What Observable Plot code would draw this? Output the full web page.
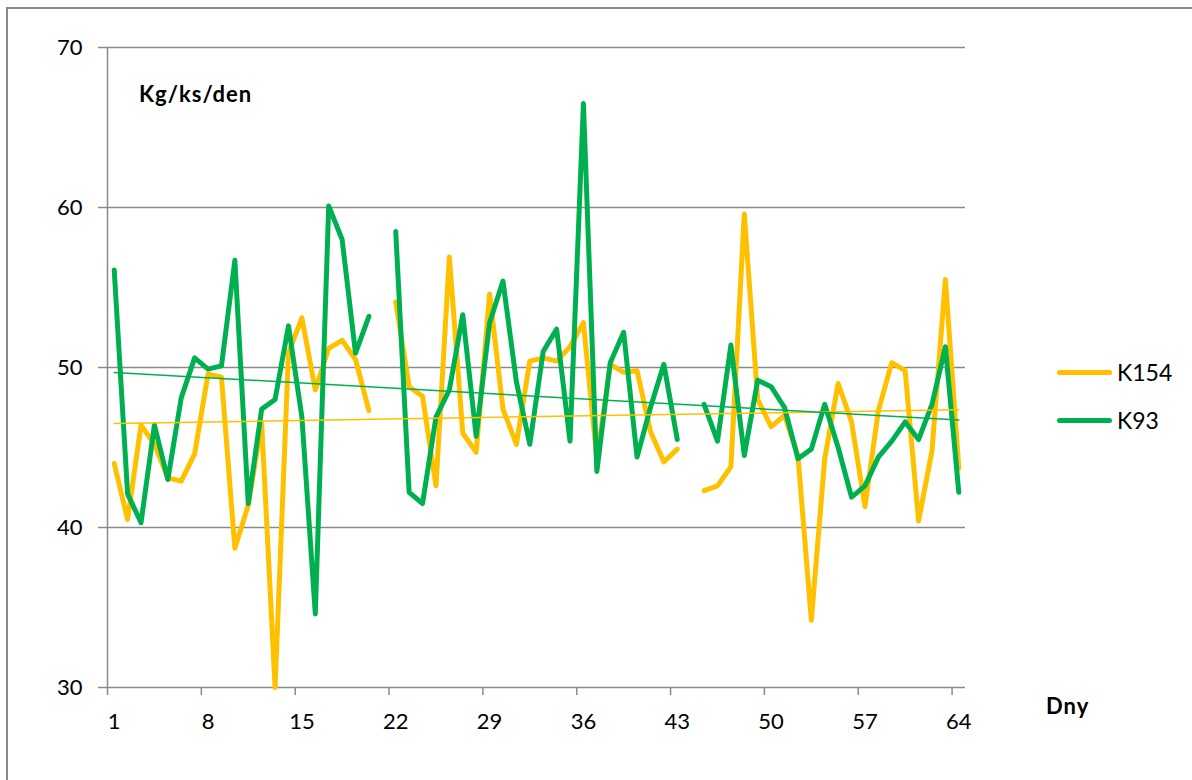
<!DOCTYPE html>
<html>
<head>
<meta charset="utf-8">
<script src="https://cdn.jsdelivr.net/npm/d3@7"></script>
<script src="https://cdn.jsdelivr.net/npm/@observablehq/plot@0.6"></script>
<style>
  html, body { margin: 0; padding: 0; background: #fff; }
  body { width: 1192px; height: 780px; position: relative; overflow: hidden; font-family: Lato, "Open Sans", sans-serif; }
  #frame { position: absolute; left: 6px; top: 7px; right: -10px; bottom: -10px; border-left: 2px solid #8a8a8a; border-top: 2px solid #8a8a8a; }
  #chart { position: absolute; left: 0; top: 0; }
  .lab { position: absolute; font-weight: bold; font-size: 22px; letter-spacing: 1px; color: #000; line-height: 1; white-space: nowrap; }
  .leg { position: absolute; left: 1057px; height: 30px; display: flex; align-items: center; font-size: 23px; color: #000; }
  .leg span.sw { display: inline-block; width: 55px; height: 5px; border-radius: 3px; margin-right: 5px; }
</style>
</head>
<body>
<div id="frame"></div>
<div id="chart"></div>
<div class="lab" style="left:139px; top:83px;">Kg/ks/den</div>
<div class="lab" style="left:1046px; top:695px;">Dny</div>
<div id="legend"></div>
<script>
// --- data ---
const seriesNames = ["K154", "K93"];
const seriesColors = ["#FFC000", "#00B050"];
const xTickLabels = [1, 8, 15, 22, 29, 36, 43, 50, 57, 64];
const yTicks = [30, 40, 50, 60, 70];

const k154 = [44.0, 40.5, 46.4, 45.2, 43.1, 42.9, 44.6, 49.6, 49.4, 38.7,
              41.4, 46.5, 30.0, 50.9, 53.1, 48.6, 51.2, 51.7, 50.5, 47.3,
              null, 54.1, 48.8, 48.2, 42.6, 56.9, 45.9, 44.7, 54.6, 47.4,
              45.2, 50.4, 50.6, 50.4, 51.3, 52.8, 44.3, 50.2, 49.7, 49.8,
              46.0, 44.1, 44.9, null, 42.3, 42.6, 43.8, 59.6, 48.0, 46.3,
              47.0, 44.5, 34.2, 44.3, 49.0, 46.6, 41.3, 47.3, 50.3, 49.8,
              40.4, 44.8, 55.5, 43.7];

const k93 = [56.1, 42.1, 40.3, 46.4, 43.0, 48.1, 50.6, 49.9, 50.1, 56.7,
             41.5, 47.4, 48.0, 52.6, 46.9, 34.6, 60.1, 58.0, 50.9, 53.2,
             null, 58.5, 42.2, 41.5, 46.9, 48.6, 53.3, 45.7, 52.8, 55.4,
             49.1, 45.2, 51.0, 52.4, 45.4, 66.5, 43.5, 50.3, 52.2, 44.4,
             47.5, 50.2, 45.5, null, 47.7, 45.4, 51.4, 44.5, 49.2, 48.8,
             47.5, 44.3, 44.9, 47.7, 45.0, 41.9, 42.6, 44.4, 45.4, 46.6,
             45.5, 47.7, 51.3, 42.2];

// --- build rows ---
const rowsA = k154.map((v, i) => ({day: i + 1, v}));
const rowsB = k93.map((v, i) => ({day: i + 1, v}));
const defA = rowsA.filter(d => d.v != null);
const defB = rowsB.filter(d => d.v != null);
const boundaries = xTickLabels.map(d => d - 0.5);
const gray = "#8a8a8a";

const plot = Plot.plot({
  width: 1192,
  height: 740,
  marginLeft: 107,
  marginRight: 227,
  marginTop: 47,
  marginBottom: 53,
  style: {fontFamily: "Lato, 'Open Sans', sans-serif", fontSize: "22px", color: "#000", background: "transparent", overflow: "visible"},
  x: {domain: [0.5, 64.5]},
  y: {domain: [30, 70]},
  marks: [
    Plot.ruleY(yTicks, {stroke: gray, strokeWidth: 1.5}),
    Plot.ruleX([0.5], {stroke: gray, strokeWidth: 1.5}),
    Plot.axisY({ticks: yTicks, tickSize: 9, tickPadding: 16, stroke: gray, strokeWidth: 1.5, strokeOpacity: 1, label: null, fill: "#000"}),
    Plot.axisX({ticks: boundaries, tickSize: 8, tickFormat: () => "", stroke: gray, strokeWidth: 1.5, strokeOpacity: 1, label: null}),
    Plot.axisX({ticks: xTickLabels, tickSize: 0, tickPadding: 26, label: null, fill: "#000"}),
    Plot.line(rowsA, {x: "day", y: "v", stroke: seriesColors[0], strokeWidth: 5, strokeLinejoin: "round", strokeLinecap: "round"}),
    Plot.line(rowsB, {x: "day", y: "v", stroke: seriesColors[1], strokeWidth: 5, strokeLinejoin: "round", strokeLinecap: "round"}),
    Plot.linearRegressionY(defA, {x: "day", y: "v", stroke: seriesColors[0], strokeWidth: 1.5, ci: 0}),
    Plot.linearRegressionY(defB, {x: "day", y: "v", stroke: seriesColors[1], strokeWidth: 1.5, ci: 0})
  ]
});
document.getElementById("chart").appendChild(plot);

// legend
const legend = document.getElementById("legend");
seriesNames.forEach((name, i) => {
  const row = document.createElement("div");
  row.className = "leg";
  row.style.top = (357 + i * 48) + "px";
  const sw = document.createElement("span");
  sw.className = "sw";
  sw.style.background = seriesColors[i];
  row.appendChild(sw);
  row.appendChild(document.createTextNode(name));
  legend.appendChild(row);
});
</script>
</body>
</html>
